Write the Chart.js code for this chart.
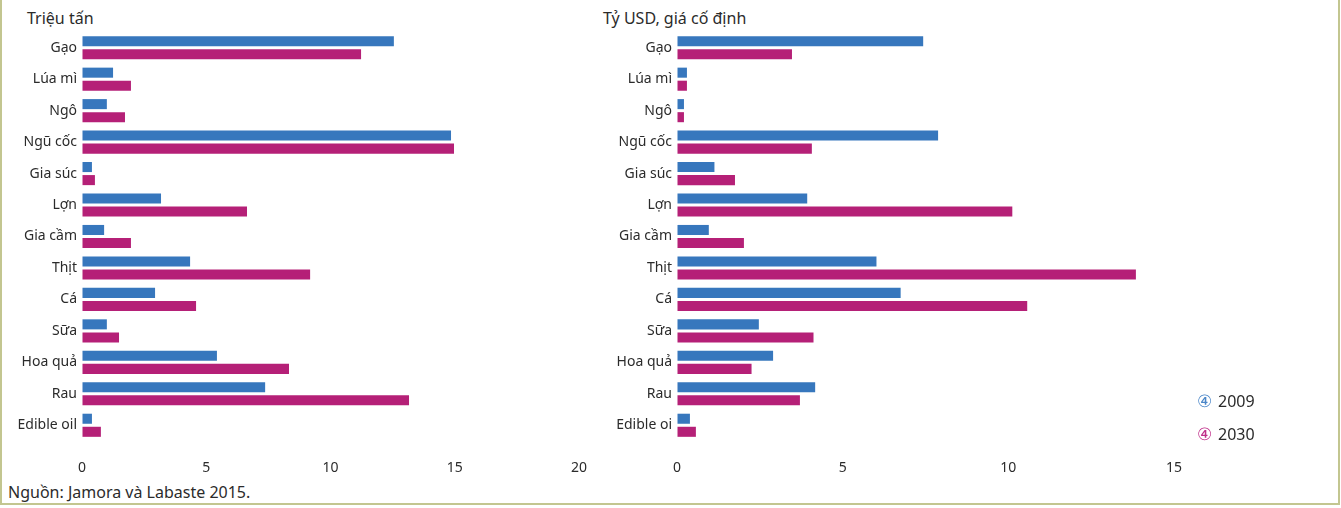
<!DOCTYPE html>
<html>
<head>
<meta charset="utf-8">
<script src="https://cdn.jsdelivr.net/npm/chart.js@4"></script>
<style>
  body { margin: 0; width: 1341px; height: 508px; background: #fff; position: relative; overflow: hidden;
         font-family: "Noto Sans", sans-serif; color: #2b2b2b; }
  .frame { position: absolute; left: 0; top: 0; width: 1336px; height: 503px;
           border-left: 2px solid #c3c690; border-right: 2px solid #c3c690; border-bottom: 2px solid #c3c690; }
  .box { position: absolute; top: 0; height: 480px; }
  .title { position: absolute; top: 7px; font-size: 16px; color: #2b2b2b; }
  .source { position: absolute; left: 8px; top: 481px; font-size: 16px; color: #2b2b2b; }
  .leg { position: absolute; left: 1197px; font-size: 16px; color: #2b2b2b; line-height: 20px; }
  .leg span { font-size: 17px; margin-right: 6px; }
</style>
</head>
<body>
<div class="frame"></div>
<div class="title" style="left:27px">Triệu tấn</div>
<div class="title" style="left:603px">Tỷ USD, giá cố định</div>
<div class="box" style="left:0; width:600px"><canvas id="leftChart" width="600" height="480"></canvas></div>
<div class="box" style="left:560px; width:640px"><canvas id="rightChart" width="640" height="480"></canvas></div>
<div class="leg" style="top:391px"><span style="color:#4a86c8">④</span>2009</div>
<div class="leg" style="top:424px"><span style="color:#c0308a">④</span>2030</div>
<div class="source">Nguồn: Jamora và Labaste 2015.</div>

<script>
const categories = ["Gạo","Lúa mì","Ngô","Ngũ cốc","Gia súc","Lợn","Gia cầm","Thịt","Cá","Sữa","Hoa quả","Rau","Edible oil"];
const rightLabels = ["Gạo","Lúa mì","Ngô","Ngũ cốc","Gia súc","Lợn","Gia cầm","Thịt","Cá","Sữa","Hoa quả","Rau","Edible oi"];

// Triệu tấn
const tons2009 = [12.55, 1.25, 1.0, 14.85, 0.4, 3.18, 0.89, 4.35, 2.94, 1.0, 5.43, 7.37, 0.4];
const tons2030 = [11.23, 1.97, 1.73, 14.97, 0.52, 6.64, 1.97, 9.18, 4.59, 1.49, 8.33, 13.16, 0.76];

// Tỷ USD, giá cố định
const usd2009 = [7.43, 0.3, 0.21, 7.88, 1.13, 3.93, 0.96, 6.02, 6.75, 2.47, 2.9, 4.17, 0.39];
const usd2030 = [3.47, 0.3, 0.21, 4.07, 1.75, 10.12, 2.02, 13.85, 10.57, 4.12, 2.25, 3.71, 0.57];

const leftTicks = [0, 5, 10, 15, 20];
const rightTicks = [0, 5, 10, 15];

const BLUE = "#3777bd";
const MAGENTA = "#b52077";
const FONT = { family: "'Noto Sans', sans-serif", size: 14 };

function makeChart(id, labels, a, b, xMax, ticks, yWidth, padRight) {
  return new Chart(document.getElementById(id), {
    type: "bar",
    data: {
      labels: labels,
      datasets: [
        { label: "2009", data: a, backgroundColor: BLUE },
        { label: "2030", data: b, backgroundColor: MAGENTA },
      ],
    },
    options: {
      indexAxis: "y",
      responsive: false,
      animation: false,
      categoryPercentage: 0.83,
      barPercentage: 0.77,
      layout: { padding: { top: 32, right: padRight, left: 0, bottom: 0 } },
      plugins: { legend: { display: false }, tooltip: { enabled: false } },
      scales: {
        x: {
          min: 0,
          max: xMax,
          afterFit: (s) => { s.height = 39; },
          afterBuildTicks: (s) => { s.ticks = ticks.map(v => ({ value: v })); },
          // invisible tick marks push the labels down without widening the side padding
          grid: { display: true, drawOnChartArea: false, drawTicks: true, tickLength: 19, color: "rgba(0,0,0,0)" },
          border: { display: false },
          ticks: { color: "#2b2b2b", font: FONT, padding: 0, maxRotation: 0 },
        },
        y: {
          afterFit: (s) => { s.width = yWidth; },
          grid: { display: false, drawTicks: false },
          border: { display: false },
          ticks: { color: "#2b2b2b", font: FONT, padding: 5, autoSkip: false },
        },
      },
    },
  });
}

makeChart("leftChart", categories, tons2009, tons2030, 20, leftTicks, 82, 21);
makeChart("rightChart", rightLabels, usd2009, usd2030, 15, rightTicks, 117, 26);
</script>
</body>
</html>
